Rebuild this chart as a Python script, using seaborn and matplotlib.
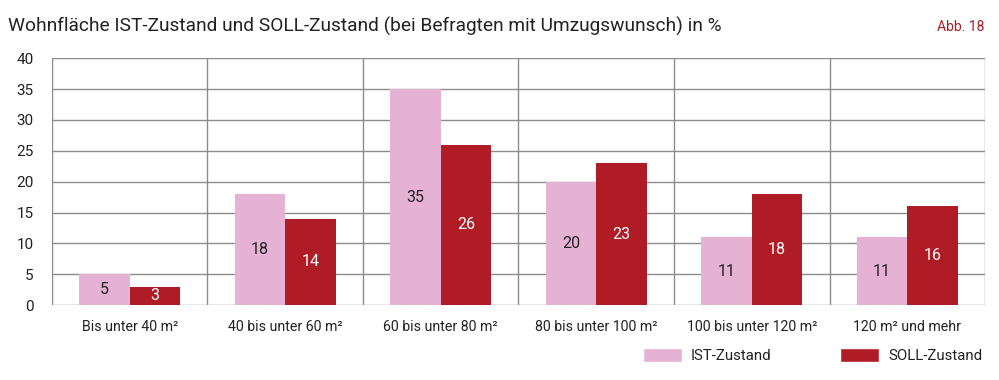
import pandas as pd
import matplotlib.pyplot as plt
import seaborn as sns
from matplotlib.patches import Patch

# Data
categories = ["Bis unter 40 m²", "40 bis unter 60 m²", "60 bis unter 80 m²",
              "80 bis unter 100 m²", "100 bis unter 120 m²", "120 m² und mehr"]
ist_values = [5, 18, 35, 20, 11, 11]
soll_values = [3, 14, 26, 23, 18, 16]
series = ["IST-Zustand", "SOLL-Zustand"]
y_ticks = [0, 5, 10, 15, 20, 25, 30, 35, 40]

pink = "#e6b2d4"
red = "#b01c25"
grid_col = "#8c8c8c"

df = pd.DataFrame({
    "cat": categories * 2,
    "serie": [series[0]] * 6 + [series[1]] * 6,
    "wert": ist_values + soll_values,
})

sns.set_style("white")
plt.rcParams["font.family"] = ["Roboto", "DejaVu Sans"]

fig = plt.figure(figsize=(9.99, 3.8), dpi=100)
ax = fig.add_axes([0.052, 0.197, 0.934, 0.650])

sns.barplot(data=df, x="cat", y="wert", hue="serie", palette=[pink, red],
            width=0.65, saturation=1, ax=ax, legend=False, zorder=3, linewidth=0)

ax.set_ylim(0, 40)
ax.set_xlim(-0.5, 5.5)
ax.set_yticks(y_ticks)
ax.set_yticklabels([str(t) for t in y_ticks], fontsize=11)
ax.tick_params(axis="y", length=9, color=grid_col, pad=4, labelcolor="#222222")
ax.tick_params(axis="x", which="major", length=0, pad=11, labelsize=10.2, labelcolor="#222222")
ax.set_xticks([i - 0.5 for i in range(7)], minor=True)
ax.tick_params(axis="x", which="minor", length=10, color=grid_col, width=1)
ax.set_xlabel("")
ax.set_ylabel("")
ax.set_axisbelow(True)
ax.grid(axis="y", color=grid_col, linewidth=1)
for i in range(7):
    ax.axvline(i - 0.5, color=grid_col, linewidth=1, zorder=1)
for s in ax.spines.values():
    s.set_visible(False)

# value labels inside the bars
for cont, col in zip(ax.containers, ["#222222", "white"]):
    ax.bar_label(cont, label_type="center", color=col, fontsize=11.5)

fig.text(0.008, 0.93, "Wohnfläche IST-Zustand und SOLL-Zustand (bei Befragten mit Umzugswunsch) in %",
         fontsize=13.8, color="#222222", va="center", ha="left")
fig.text(0.985, 0.93, "Abb. 18", fontsize=10, color=red, va="center", ha="right")

handles = [Patch(facecolor=pink), Patch(facecolor=red)]
leg = fig.legend(handles, series, loc="center right", bbox_to_anchor=(0.997, 0.065),
                 ncol=2, frameon=False, fontsize=10.8, handlelength=2.6, handleheight=1.15,
                 columnspacing=4.6, handletextpad=0.6)
for t in leg.get_texts():
    t.set_color("#222222")

fig.savefig("out.png", dpi=100)
